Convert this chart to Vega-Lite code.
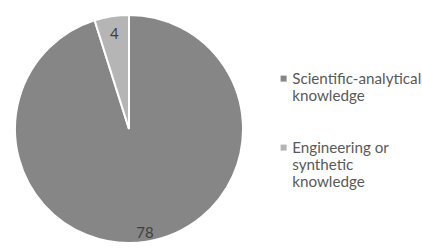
{
  "$schema": "https://vega.github.io/schema/vega-lite/v6.json",
  "width": 228,
  "height": 228,
  "padding": {"left": 11, "top": 11, "right": 0, "bottom": 0},
  "background": "white",
  "config": {
    "view": {"stroke": null},
    "font": "Lato",
    "text": {"font": "Lato"}
  },
  "data": {
    "values": [
      {"type": "Scientific-analytical knowledge", "count": 78},
      {"type": "Engineering or synthetic knowledge", "count": 4}
    ]
  },
  "encoding": {
    "theta": {"field": "count", "type": "quantitative", "stack": true},
    "order": {"field": "count", "type": "quantitative", "sort": "descending"}
  },
  "layer": [
    {
      "mark": {"type": "arc", "stroke": "white", "strokeWidth": 2},
      "encoding": {
        "color": {
          "field": "type",
          "type": "nominal",
          "sort": null,
          "scale": {
            "domain": ["Scientific-analytical knowledge", "Engineering or synthetic knowledge"],
            "range": ["#868686", "#b5b5b5"]
          },
          "legend": {
            "title": null,
            "orient": "none",
            "legendX": 261,
            "legendY": 56,
            "symbolType": "square",
            "symbolSize": 36,
            "symbolStrokeWidth": 0,
            "labelFont": "Lato",
            "labelFontSize": 15.2,
            "labelColor": "#595959",
            "labelLimit": 300,
            "labelLineHeight": 19,
            "labelOffset": 1,
            "rowPadding": 36,
            "labelExpr": "datum.label == 'Scientific-analytical knowledge' ? ['Scientific-analytical', 'knowledge'] : ['Engineering or', 'synthetic', 'knowledge']"
          }
        }
      }
    },
    {
      "mark": {"type": "text", "radius": 96, "fontSize": 15, "color": "#404040", "font": "Lato"},
      "encoding": {
        "text": {"field": "count", "type": "quantitative"},
        "opacity": {"condition": {"test": "datum.count == 4", "value": 1}, "value": 0}
      }
    },
    {
      "mark": {"type": "text", "radius": 105, "fontSize": 15, "color": "#404040", "font": "Lato"},
      "encoding": {
        "text": {"field": "count", "type": "quantitative"},
        "opacity": {"condition": {"test": "datum.count == 78", "value": 1}, "value": 0}
      }
    }
  ]
}
